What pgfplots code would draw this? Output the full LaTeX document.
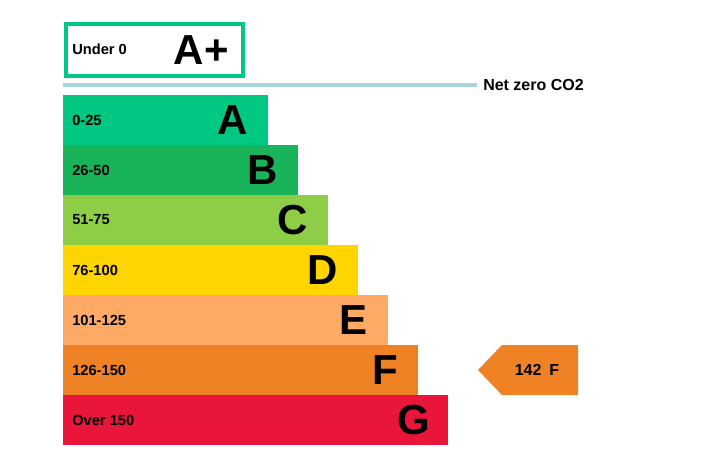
\documentclass[border=0pt]{standalone}
\usepackage{pgfplots}
\pgfplotsset{compat=1.18}
\usepackage{fontspec}
\setmainfont{Liberation Sans}

\definecolor{cA}{RGB}{0,199,129}
\definecolor{cB}{RGB}{25,180,89}
\definecolor{cC}{RGB}{141,206,70}
\definecolor{cD}{RGB}{255,213,0}
\definecolor{cE}{RGB}{252,170,101}
\definecolor{cF}{RGB}{239,130,36}
\definecolor{cG}{RGB}{233,21,59}
\definecolor{cLine}{RGB}{168,214,220}

\tikzset{
    lab/.style={anchor=west, inner sep=0pt, font=\bfseries\fontsize{11}{13}\selectfont},
    big/.style={anchor=east, inner sep=0pt, font=\bfseries\fontsize{31.5}{36}\selectfont},
}

\begin{document}
\begin{tikzpicture}
\begin{axis}[
    scale only axis,
    width=531pt, height=351pt,
    xmin=-63, xmax=645,
    ymin=0, ymax=468,
    y dir=reverse,
    hide axis,
    clip=false,
    band/.style={xbar, bar width=50, bar shift=0pt, draw=none},
]

% rating bands (length in px from the left edge, centre row)
\addplot[band, fill=cA] coordinates {(205,120)};
\addplot[band, fill=cB] coordinates {(235,170)};
\addplot[band, fill=cC] coordinates {(265,220)};
\addplot[band, fill=cD] coordinates {(295,270)};
\addplot[band, fill=cE] coordinates {(325,320)};
\addplot[band, fill=cF] coordinates {(355,370)};
\addplot[band, fill=cG] coordinates {(385,420)};

% current rating marker: 142 -> F
\addplot[fill=cF, draw=none] coordinates {(415,370)(439,345)(515,345)(515,395)(439,395)} --cycle;
\node[font=\bfseries\fontsize{12}{14}\selectfont] at (axis cs:474,370) {142\enspace F};

% A+ box and net zero line
\draw[cA, line width=3.4pt] (axis cs:3,24) rectangle (axis cs:180,76);
\node[lab] at (axis cs:9,49) {Under 0};
\node[big] at (axis cs:166,50) {A+};
\draw[cLine, line width=3pt] (axis cs:0,85) -- (axis cs:414,85);
\node[anchor=west, inner sep=0pt, font=\bfseries\fontsize{12}{14}\selectfont] at (axis cs:420,85) {Net zero CO2};

\node[lab] at (axis cs:9,120) {0-25};
\node[lab] at (axis cs:9,170) {26-50};
\node[lab] at (axis cs:9,220) {51-75};
\node[lab] at (axis cs:9,270) {76-100};
\node[lab] at (axis cs:9,320) {101-125};
\node[lab] at (axis cs:9,370) {126-150};
\node[lab] at (axis cs:9,420) {Over 150};

\node[big] at (axis cs:185,120) {A};
\node[big] at (axis cs:215,170) {B};
\node[big] at (axis cs:245,220) {C};
\node[big] at (axis cs:275,270) {D};
\node[big] at (axis cs:305,320) {E};
\node[big] at (axis cs:335,370) {F};
\node[big] at (axis cs:367,420) {G};
\end{axis}
\path (current axis.south west) rectangle (current axis.north east);
\end{tikzpicture}
\end{document}
